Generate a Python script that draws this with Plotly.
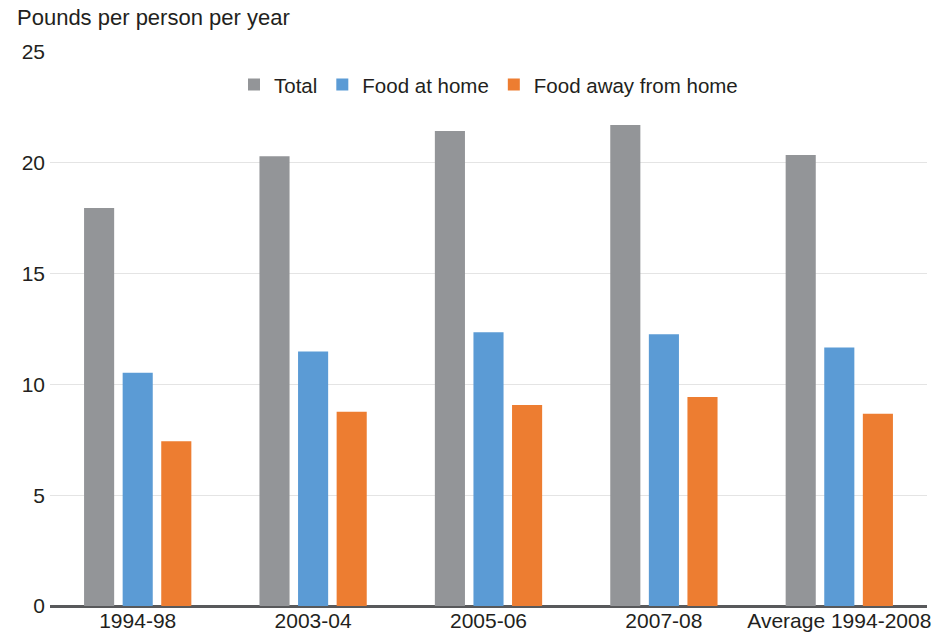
import plotly.graph_objects as go

categories = ["1994-98", "2003-04", "2005-06", "2007-08", "Average 1994-2008"]
total = [17.96, 20.29, 21.44, 21.71, 20.35]
food_at_home = [10.53, 11.49, 12.35, 12.26, 11.67]
food_away = [7.43, 8.77, 9.07, 9.43, 8.68]
y_ticks = [0, 5, 10, 15, 20, 25]

series = [
    ("Total", total, "#939598"),
    ("Food at home", food_at_home, "#5b9bd5"),
    ("Food away from home", food_away, "#ed7d31"),
]

FONT = "Liberation Sans, Arial, sans-serif"
TXT = "#231f20"
FS = 21

fig = go.Figure()
for name, vals, col in series:
    fig.add_trace(go.Bar(x=categories, y=vals, name=name, marker=dict(color=col, line=dict(width=0))))

fig.update_layout(
    width=943, height=644,
    margin=dict(l=50, r=13, t=52, b=33),
    paper_bgcolor="white", plot_bgcolor="white",
    barmode="group", bargap=0.34, bargroupgap=0.22,
    font=dict(family=FONT, size=FS, color=TXT),
    showlegend=True,
    legend=dict(orientation="h", x=0.5, xanchor="center", y=0.941, yanchor="middle",
                font=dict(size=20.5, color=TXT), bgcolor="rgba(0,0,0,0)", itemwidth=30,
                traceorder="normal"),
    xaxis=dict(type="category", showgrid=False, showline=False, ticks="",
               tickfont=dict(size=FS, color=TXT)),
    yaxis=dict(range=[0, 25], tickvals=y_ticks, showgrid=True, gridcolor="#e4e4e4", gridwidth=1,
               zeroline=True, zerolinecolor="#58595b", zerolinewidth=3,
               showline=False, ticks="", ticklabelstandoff=4,
               tickfont=dict(size=FS, color=TXT)),
    annotations=[dict(text="Pounds per person per year", xref="paper", yref="paper",
                      x=0, y=1, xanchor="left", yanchor="bottom", xshift=-35, yshift=20,
                      showarrow=False, font=dict(size=22, color=TXT))],
)

fig.write_html("out.html")
